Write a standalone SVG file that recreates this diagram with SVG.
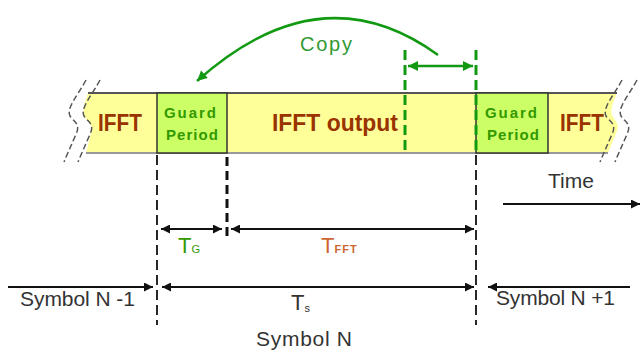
<svg xmlns="http://www.w3.org/2000/svg" width="641" height="352" viewBox="0 0 641 352">
<style>
text{font-family:"Liberation Sans",Arial,sans-serif}
.lbl{fill:#333;font-size:21px}
.ifft{fill:#993300;font-size:24px;font-weight:bold}
.gp{fill:#339900;font-size:15px;font-weight:bold}
.wave{fill:none;stroke:#555;stroke-width:1.5;stroke-dasharray:6 3}
.dash{fill:none;stroke:#111;stroke-width:1.8;stroke-dasharray:10 5}
.dash2{fill:none;stroke:#111;stroke-width:3;stroke-dasharray:9 5}
.gdash{fill:none;stroke:#119911;stroke-width:3;stroke-dasharray:10 5}
.arr{fill:none;stroke:#111;stroke-width:2}
</style>
<defs>
<marker id="ah" viewBox="0 0 10 10" refX="10" refY="5" markerWidth="10" markerHeight="9" markerUnits="userSpaceOnUse" orient="auto-start-reverse"><path d="M0,0 L10,5 L0,10 Z" fill="#111"/></marker>
<marker id="gh" viewBox="0 0 10 10" refX="10" refY="5" markerWidth="11" markerHeight="10" markerUnits="userSpaceOnUse" orient="auto-start-reverse"><path d="M0,0 L10,5 L0,10 Z" fill="#119911"/></marker>
<path id="wv" d="M100,80 C92,95 80,108 84,116 C88,122 95,124 90,134 C86,144 82,152 78,162"/>
</defs>
<g id="bar">
<path d="M88,93 L617,93 C613,103 610,110 612,115 C614,120 620,123 617,131 L608,153 L86,153 L91,133 C94,125 87,121 84,116 C82,110 85,102 88,93 Z" fill="#ffff99"/>
<line x1="88" y1="93" x2="617" y2="93" stroke="#555" stroke-width="2"/>
<line x1="86" y1="153" x2="608" y2="153" stroke="#999" stroke-width="2"/>
<use href="#wv" class="wave"/>
<use href="#wv" class="wave" transform="translate(-14,0)"/>
<use href="#wv" class="wave" transform="translate(522,0)"/>
<use href="#wv" class="wave" transform="translate(537,0)"/>
</g>
<g id="ifft-left"><text class="ifft" x="120" y="131" text-anchor="middle" textLength="44" lengthAdjust="spacingAndGlyphs">IFFT</text></g>
<g id="guard-left">
<rect x="157" y="93" width="70" height="60" fill="#ccff66" stroke="#333" stroke-width="1.5"/>
<text class="gp" x="190" y="118" text-anchor="middle" textLength="52">Guard</text>
<text class="gp" x="192" y="140" text-anchor="middle" textLength="52">Period</text>
</g>
<g id="ifft-output"><text class="ifft" x="335" y="131" text-anchor="middle" textLength="126" lengthAdjust="spacingAndGlyphs">IFFT output</text></g>
<g id="guard-right">
<rect x="476" y="93" width="72" height="60" fill="#ccff66" stroke="#333" stroke-width="1.5"/>
<text class="gp" x="511" y="118" text-anchor="middle" textLength="52">Guard</text>
<text class="gp" x="513" y="140" text-anchor="middle" textLength="52">Period</text>
</g>
<g id="ifft-right"><text class="ifft" x="582" y="131" text-anchor="middle" textLength="44" lengthAdjust="spacingAndGlyphs">IFFT</text></g>
<g id="connectors">
<line class="gdash" x1="405" y1="50" x2="405" y2="153"/>
<line class="gdash" x1="476" y1="50" x2="476" y2="153"/>
<line x1="408" y1="66" x2="473" y2="66" stroke="#119911" stroke-width="2.5" marker-start="url(#gh)" marker-end="url(#gh)"/>
<path d="M438,55 Q321,-30 197,81" fill="none" stroke="#119911" stroke-width="2.5" marker-end="url(#gh)"/>
<line class="dash" x1="157" y1="155" x2="157" y2="325"/>
<line class="dash2" x1="227" y1="157" x2="227" y2="240"/>
<line class="dash" x1="476" y1="155" x2="476" y2="325"/>
<line class="arr" x1="161" y1="229" x2="222" y2="229" marker-start="url(#ah)" marker-end="url(#ah)"/>
<line class="arr" x1="231" y1="229" x2="474" y2="229" marker-start="url(#ah)" marker-end="url(#ah)"/>
<line class="arr" x1="162" y1="287" x2="474" y2="287" marker-start="url(#ah)" marker-end="url(#ah)"/>
<line class="arr" x1="8" y1="287" x2="153" y2="287" marker-end="url(#ah)"/>
<line class="arr" x1="630" y1="287" x2="488" y2="287" marker-end="url(#ah)"/>
<line class="arr" x1="503" y1="204" x2="640" y2="204" marker-end="url(#ah)"/>
</g>
<g id="labels">
<text x="326" y="51" text-anchor="middle" font-size="20" fill="#339933" textLength="52">Copy</text>
<text class="lbl" x="571" y="188" text-anchor="middle" textLength="46">Time</text>
<text x="178" y="253" font-size="22" fill="#339900">T<tspan font-size="11" dy="0">G</tspan></text>
<text x="321" y="253" font-size="22" fill="#cc6633">T<tspan font-size="11" font-weight="bold" letter-spacing="1">FFT</tspan></text>
<text x="291" y="310" font-size="22" fill="#333">T<tspan font-size="11" dy="2">s</tspan></text>
<text class="lbl" x="20" y="306" textLength="115">Symbol N -1</text>
<text class="lbl" x="496" y="305" textLength="119">Symbol N +1</text>
<text class="lbl" x="304" y="346" text-anchor="middle" textLength="96">Symbol N</text>
</g>
</svg>
